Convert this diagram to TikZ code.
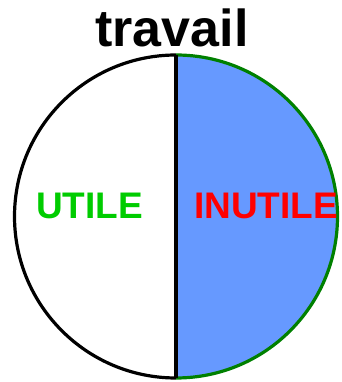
\documentclass[tikz,border=0pt]{standalone}
\usepackage{fontspec}
\setmainfont{Liberation Sans}
\usepackage{tikz}
\definecolor{bleu}{HTML}{6699FF}
\definecolor{vertfonce}{HTML}{008000}
\definecolor{vertclair}{HTML}{00CC00}
\tikzset{mot/.style={anchor=base, font=\bfseries\fontsize{37}{37}\selectfont}}

\begin{document}
\begin{tikzpicture}[x=1pt, y=1pt, line width=3.2pt]
                \useasboundingbox (0,0) rectangle (341,382);
                \coordinate (O) at (176,165.5);
                \coordinate (N) at (176,327);
                \coordinate (S) at (176,4);
                \fill[bleu] (N) arc[start angle=90, end angle=-90, radius=161.5] -- cycle;
                \draw[vertfonce] (N) arc[start angle=90, end angle=-90, radius=161.5];
                \draw[black] (N) arc[start angle=90, end angle=270, radius=161.5];
                \draw[black] (N) -- (S);
                \node[mot, font=\bfseries\fontsize{52}{52}\selectfont] (titre) at (172,335.3) {travail};
                \node[mot, vertclair] (utile) at (89.5,163) {UTILE};
                \node[mot, red] (inutile) at (266,163) {INUTILE};
            \end{tikzpicture}
\end{document}
